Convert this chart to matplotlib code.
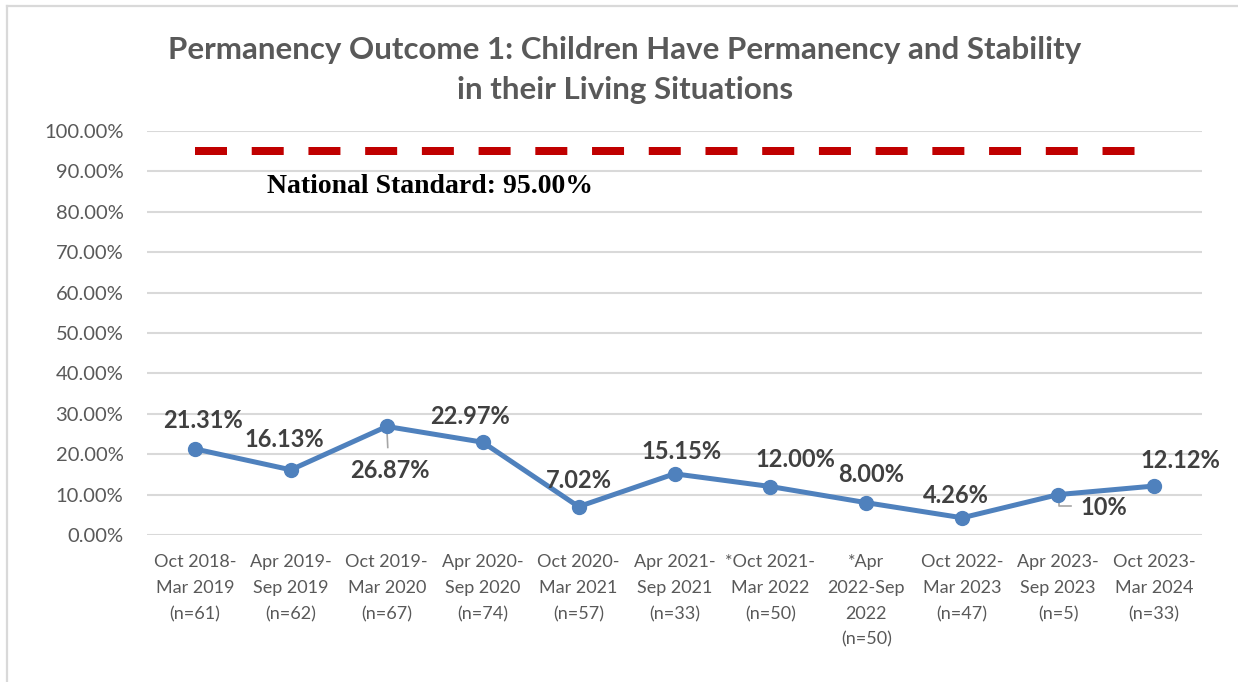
import matplotlib
matplotlib.use("Agg")
import matplotlib.pyplot as plt
from matplotlib.lines import Line2D
from matplotlib.ticker import FuncFormatter

periods = [
    "Oct 2018-\nMar 2019\n(n=61)",
    "Apr 2019-\nSep 2019\n(n=62)",
    "Oct 2019-\nMar 2020\n(n=67)",
    "Apr 2020-\nSep 2020\n(n=74)",
    "Oct 2020-\nMar 2021\n(n=57)",
    "Apr 2021-\nSep 2021\n(n=33)",
    "*Oct 2021-\nMar 2022\n(n=50)",
    "*Apr\n2022-Sep\n2022\n(n=50)",
    "Oct 2022-\nMar 2023\n(n=47)",
    "Apr 2023-\nSep 2023\n(n=5)",
    "Oct 2023-\nMar 2024\n(n=33)",
]
outcome = [21.31, 16.13, 26.87, 22.97, 7.02, 15.15, 12.00, 8.00, 4.26, 10, 12.12]
value_labels = ["21.31%", "16.13%", "26.87%", "22.97%", "7.02%", "15.15%",
                "12.00%", "8.00%", "4.26%", "10%", "12.12%"]
national_standard = 95.0

# label placement in pixels relative to each point
label_offsets = [(8, 28), (-7, 30), (3, -44), (-13, 26), (0, 26), (7, 22),
                 (25, 27), (5, 28), (-6, 22), (46, -13), (26, 26)]

GREY = "#595959"
DARK = "#404040"
BLUE = "#4f81bd"
RED = "#c00000"
SANS = "Lato"

W, H = 1238, 682
fig = plt.figure(figsize=(W / 100, H / 100), dpi=100)
ax = fig.add_axes([147 / W, 1 - 535 / H, (1202 - 147) / W, (535 - 131) / H])

x = list(range(len(outcome)))
ax.set_xlim(-0.5, len(outcome) - 0.5)
ax.set_ylim(0, 100)
ax.set_yticks(range(0, 101, 10))
ax.yaxis.set_major_formatter(FuncFormatter(lambda v, _: f"{v:.2f}%"))
ax.grid(axis="y", color="#d9d9d9", lw=1.5)
ax.set_axisbelow(True)
for s in ax.spines.values():
    s.set_visible(False)
ax.tick_params(axis="both", length=0, colors=GREY)
ax.tick_params(axis="y", pad=17, labelsize=14.5)
ax.set_xticks(x)
ax.set_xticklabels(periods, fontsize=13, linespacing=1.75, color=GREY, family=SANS)
ax.tick_params(axis="x", pad=14)
for t in ax.get_yticklabels():
    t.set_family(SANS)

# national standard reference
ax.plot([x[0], x[-1]], [national_standard] * 2, color=RED, lw=5.76,
        dashes=(4, 3.09), solid_capstyle="butt", dash_capstyle="butt")
ax.annotate(f"National Standard: {national_standard:.2f}%",
            xy=(x[0], national_standard), xytext=(72, -35),
            textcoords="offset pixels", ha="left", va="center",
            family="Liberation Serif", fontweight="bold", fontsize=20, color="black")

ax.plot(x, outcome, color=BLUE, lw=3.6, marker="o", markersize=10, zorder=3)

for xi, yi, lab, (dx, dy) in zip(x, outcome, value_labels, label_offsets):
    ax.annotate(lab, xy=(xi, yi), xytext=(dx, dy), textcoords="offset pixels",
                ha="center", va="center", fontsize=17, fontweight="bold",
                color=DARK, family=SANS)

# leader lines for the labels pulled away from their points
p = ax.transData.transform((x[2], outcome[2]))
ax.add_line(Line2D([p[0], p[0] + 1], [p[1], p[1] - 21], transform=None,
                   color="#a6a6a6", lw=1.2, zorder=2))
p = ax.transData.transform((x[9], outcome[9]))
ax.add_line(Line2D([p[0] + 1, p[0] + 1, p[0] + 13], [p[1], p[1] - 11, p[1] - 11],
                   transform=None, color="#a6a6a6", lw=1.2, zorder=2))

fig.text(625 / W, 1 - 50 / H, "Permanency Outcome 1: Children Have Permanency and Stability",
         ha="center", va="center", fontsize=22.5, fontweight="bold", color=GREY, family=SANS)
fig.text(625 / W, 1 - 90 / H, "in their Living Situations",
         ha="center", va="center", fontsize=22.5, fontweight="bold", color=GREY, family=SANS)

# chart frame
fig.add_artist(Line2D([7 / W, 7 / W], [0, 1 - 6 / H], transform=fig.transFigure,
                      color="#d9d9d9", lw=1.6))
fig.add_artist(Line2D([7 / W, 1], [1 - 6 / H, 1 - 6 / H], transform=fig.transFigure,
                      color="#d9d9d9", lw=1.6))

fig.savefig("out.png", dpi=100)
